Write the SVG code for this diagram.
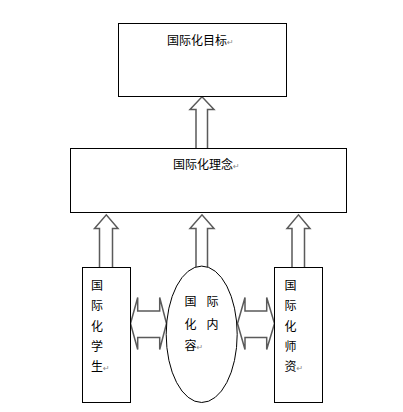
<svg xmlns="http://www.w3.org/2000/svg" width="403" height="412" viewBox="0 0 403 412">
<style>
.box{fill:#fff;stroke:#000;stroke-width:1}
.arr{fill:#fff;stroke:#5a5a5a;stroke-width:1.5;stroke-linejoin:miter}
.t{font-family:"Noto Sans CJK SC","Noto Sans",sans-serif;font-size:12px;fill:#000}
.rm{font-family:"DejaVu Sans",sans-serif;font-size:8px;fill:#888}
</style>
<rect width="403" height="412" fill="#fff"/>
<g id="connectors">
<path class="arr" d="M196,148 L196,109.5 L190,109.5 L202,96.8 L214,109.5 L207.5,109.5 L207.5,148"/>
<path class="arr" d="M99.5,267 L99.5,228.5 L94.5,228.5 L106.3,214.8 L118,228.5 L112.5,228.5 L112.5,267"/>
<path class="arr" d="M196,267 L196,228.5 L190,228.5 L202,214.8 L214,228.5 L207.5,228.5 L207.5,267"/>
<path class="arr" d="M292,267 L292,228.5 L287,228.5 L298.5,214.8 L310,228.5 L304.5,228.5 L304.5,267"/>
<path class="arr" d="M130.5,323.5 L137.7,297.5 L137.7,311 L159.7,311 L159.7,297.5 L166.5,323.5 L159.7,349.5 L159.7,337.5 L137.7,337.5 L137.7,349.5 Z"/>
<path class="arr" d="M237.5,323.5 L245,297.5 L245,311 L266.7,311 L266.7,297.5 L274.5,323.5 L266.7,349.5 L266.7,337.5 L245,337.5 L245,349.5 Z"/>
</g>
<g id="goal">
<rect class="box" x="118.5" y="23.5" width="168" height="73"/>
<text class="t" x="167" y="45">国际化目标<tspan class="rm">↵</tspan></text>
</g>
<g id="concept">
<rect class="box" x="70.5" y="148.5" width="276" height="64"/>
<text class="t" x="173" y="169">国际化理念<tspan class="rm">↵</tspan></text>
</g>
<g id="students">
<rect class="box" x="82.5" y="267.5" width="48" height="135"/>
<text class="t"><tspan x="91" y="289.5">国</tspan><tspan x="91" y="310">际</tspan><tspan x="91" y="330.5">化</tspan><tspan x="91" y="351">学</tspan><tspan x="91" y="371">生</tspan><tspan class="rm">↵</tspan></text>
</g>
<g id="content">
<ellipse class="box" cx="201.7" cy="334.3" rx="35.5" ry="68.2"/>
<text class="t"><tspan x="184.5" y="306">国</tspan><tspan x="206.5" y="306">际</tspan><tspan x="184.5" y="328.5">化</tspan><tspan x="206.5" y="328.5">内</tspan><tspan x="184.5" y="349.5">容</tspan><tspan class="rm">↵</tspan></text>
</g>
<g id="teachers">
<rect class="box" x="274.5" y="267.5" width="48" height="135"/>
<text class="t"><tspan x="284.5" y="289.5">国</tspan><tspan x="284.5" y="310">际</tspan><tspan x="284.5" y="330.5">化</tspan><tspan x="284.5" y="351">师</tspan><tspan x="284.5" y="371">资</tspan><tspan class="rm">↵</tspan></text>
</g>
</svg>
